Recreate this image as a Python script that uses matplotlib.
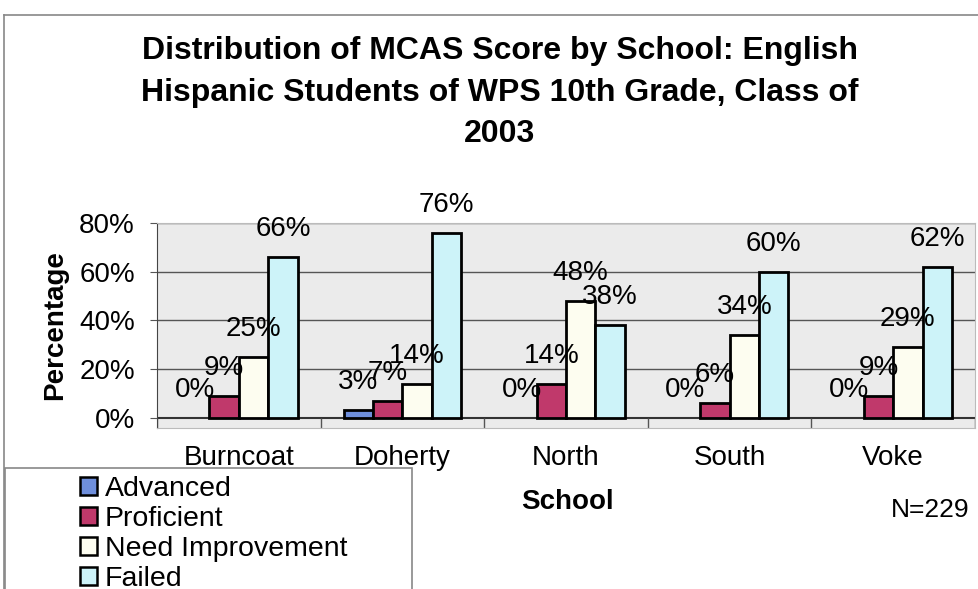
import numpy as np
import matplotlib.pyplot as plt
from matplotlib.lines import Line2D
from matplotlib.patches import Patch, Rectangle

plt.rcParams["font.family"] = ["Liberation Sans", "DejaVu Sans"]

schools = ["Burncoat", "Doherty", "North", "South", "Voke"]
levels = ["Advanced", "Proficient", "Need Improvement", "Failed"]
advanced = [0, 3, 0, 0, 0]
proficient = [9, 7, 14, 6, 9]
need_improvement = [25, 14, 48, 34, 29]
failed = [66, 76, 38, 60, 62]
colors = ["#6f8fdc", "#c0396b", "#fdfdf0", "#cdf3f9"]

series = [advanced, proficient, need_improvement, failed]

W, H = 979, 589
fig = plt.figure(figsize=(W / 100, H / 100), dpi=100)
ax = fig.add_axes([157 / W, 1 - 428 / H, 818 / W, 205 / H])
ax.set_facecolor("#ebebeb")

x = np.arange(len(schools))
width = 0.18
for i, (vals, col) in enumerate(zip(series, colors)):
    pos = x + (i - 1.5) * width
    vals = np.array(vals)
    # zero-height bars get no outline
    edges = ["black" if v > 0 else "none" for v in vals]
    ax.bar(pos, vals / 100, width, color=col, edgecolor=edges,
           linewidth=2, zorder=3)
    for px, v in zip(pos, vals):
        ax.annotate(f"{v}%", (px, v / 100), xytext=(0, 28),
                    textcoords="offset pixels", ha="center", va="center",
                    fontsize=20, zorder=4, annotation_clip=False)

ax.set_xlim(-0.5, len(schools) - 0.5)
ax.set_ylim(-0.042, 0.8)
ax.set_yticks([0, 0.2, 0.4, 0.6, 0.8])
ax.set_yticklabels(["0%", "20%", "40%", "60%", "80%"], fontsize=20)
ax.tick_params(axis="y", length=5, pad=11, color="#555555")
ax.set_xticks(x)
ax.set_xticklabels(schools, fontsize=20)
ax.tick_params(axis="x", length=0, pad=12)

for gy in [0.2, 0.4, 0.6, 0.8]:
    ax.axhline(gy, color="#555555", linewidth=1, zorder=1)
ax.axhline(0, color="#333333", linewidth=1.5, zorder=2)
ax.vlines(np.arange(len(schools) + 1) - 0.5, -0.042, 0, color="#555555",
          linewidth=1, zorder=2)

for side in ["top", "right", "bottom"]:
    ax.spines[side].set_color("#bbbbbb")
ax.spines["left"].set_color("#444444")

ax.set_ylabel("Percentage", fontsize=20, fontweight="bold", labelpad=8)
fig.text(567 / W, 1 - 502 / H, "School", fontsize=20, fontweight="bold",
         ha="center", va="center")
fig.text(930 / W, 1 - 510 / H, "N=229", fontsize=19, ha="center",
         va="center")

fig.text(500 / W, 1 - 93 / H,
         "Distribution of MCAS Score by School: English\n"
         "Hispanic Students of WPS 10th Grade, Class of\n2003",
         fontsize=23, fontweight="bold", ha="center", va="center",
         linespacing=1.5)

# outer chart border (top and left edges)
fig.add_artist(Line2D([4 / W, 1], [1 - 15 / H] * 2, color="#888888",
                      linewidth=1.2))
fig.add_artist(Line2D([4 / W] * 2, [0, 1 - 15 / H], color="#888888",
                      linewidth=1.2))

# legend box runs off the bottom of the figure
fig.add_artist(Rectangle((5 / W, -0.05), 407 / W, 1 - 468 / H + 0.05,
                         transform=fig.transFigure, facecolor="white",
                         edgecolor="#888888", linewidth=1.2, zorder=5))
handles = [Patch(facecolor=c, edgecolor="black", linewidth=1.8) for c in colors]
leg = fig.legend(handles, levels, loc="upper left",
                 bbox_to_anchor=(80 / W, 1 - 476 / H), fontsize=20.5,
                 frameon=False, handlelength=0.6, handleheight=0.6,
                 handletextpad=0.28, labelspacing=0.14, borderaxespad=0,
                 borderpad=0)
leg.set_zorder(6)

fig.savefig("out.png", dpi=100)
